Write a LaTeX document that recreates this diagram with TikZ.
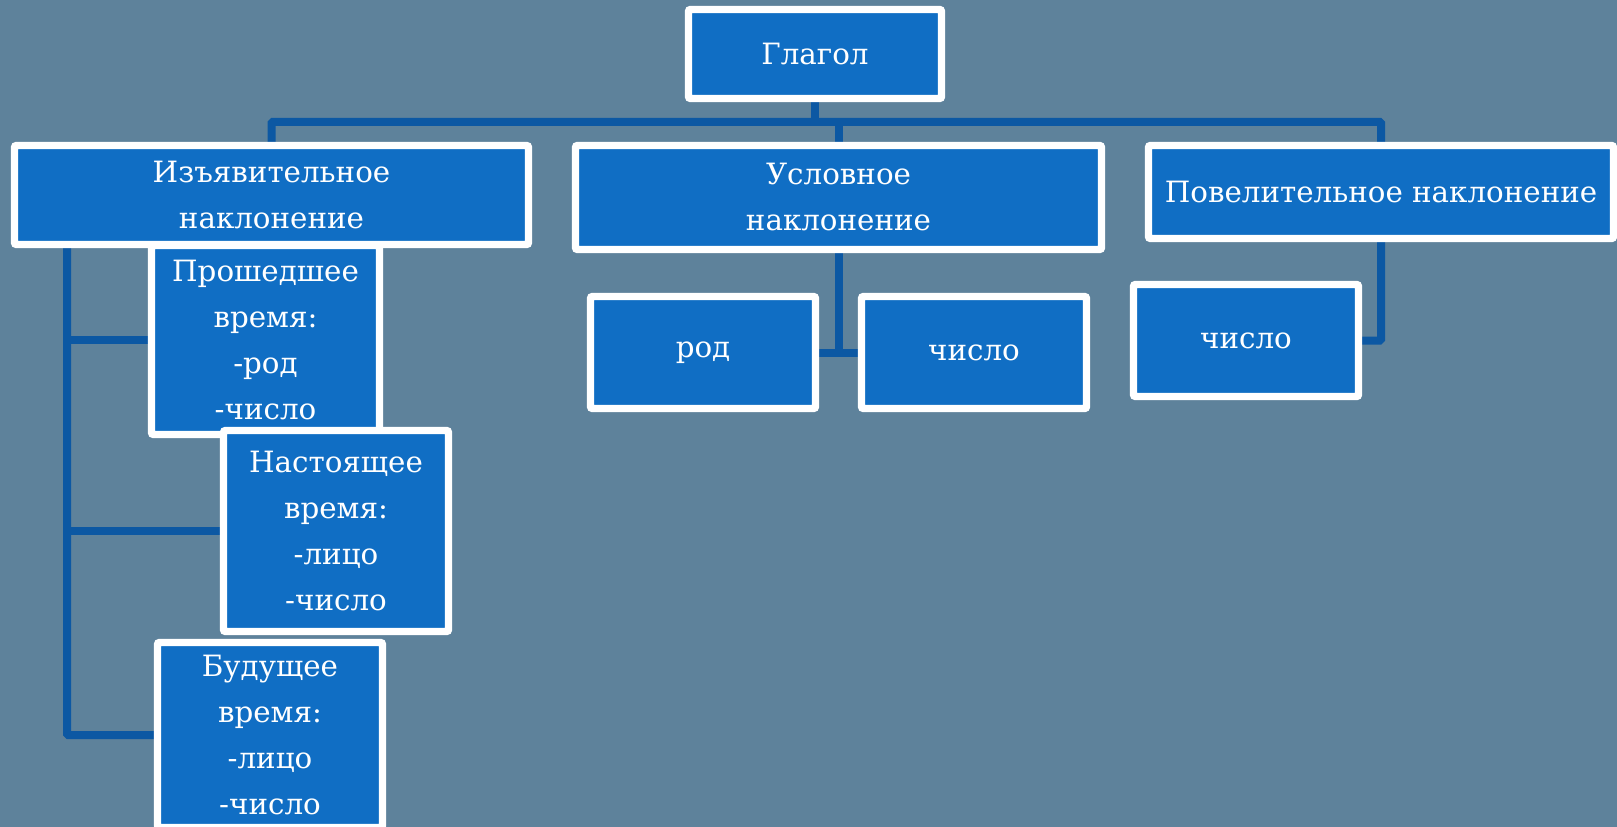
\documentclass[tikz,border=0pt]{standalone}
\usepackage{fontspec}
\setmainfont{DejaVu Serif}
\usepackage{tikz}

\definecolor{slate}{RGB}{94,130,155}
\definecolor{boxblue}{RGB}{16,110,196}
\definecolor{linkblue}{RGB}{12,88,163}

\pgfdeclarelayer{bg}
\pgfdeclarelayer{links}
\pgfsetlayers{bg,links,main}

\tikzset{
  box/.style={draw=white, fill=boxblue, line width=5.5pt, rounded corners=1.5pt,
    text=white, align=center, inner sep=0pt,
    font=\fontsize{22}{34.5}\selectfont},
  link/.style={draw=linkblue, line width=6pt, rounded corners=1pt}
}

\begin{document}
\begin{tikzpicture}[x=0.75pt,y=-0.75pt]
        \begin{pgfonlayer}{bg}
        \fill[slate] (0,0) rectangle (1617,827);
        \end{pgfonlayer}
        \useasboundingbox (0,0) rectangle (1617,827);
        \node[box, minimum width=171pt, minimum height=141.75pt] (past) at (265.5,340) {Прошедшее\\время:\\-род\\-число};
        \node[box, minimum width=168.75pt, minimum height=150.75pt] (pres) at (336,531) {Настоящее\\время:\\-лицо\\-число};
        \node[box, minimum width=168.75pt, minimum height=138.75pt] (fut) at (270,735) {Будущее\\время:\\-лицо\\-число};
        \node[box, minimum width=189.75pt, minimum height=66.75pt] (verb) at (815,54) {Глагол};
        \node[box, minimum width=385.5pt, minimum height=74.25pt] (indic) at (271.5,195) {Изъявительное\\наклонение};
        \node[box, minimum width=394.5pt, minimum height=78pt] (cond) at (838.5,197.5) {Условное\\наклонение};
        \node[box, minimum width=348.75pt, minimum height=69.75pt] (imper) at (1381,192) {Повелительное наклонение};
        \node[box, minimum width=168.75pt, minimum height=84pt] (gender) at (703,352.5) {род};
        \node[box, minimum width=168.75pt, minimum height=84pt] (numc) at (974,352.5) {число};
        \node[box, minimum width=168.75pt, minimum height=84pt] (numi) at (1246,340.5) {число};
        \coordinate (bar) at (1381,122);
        \coordinate (spine) at (67,0);
        \begin{pgfonlayer}{links}
        \draw[link] (verb.south) -- (verb.south |- bar);
        \draw[link] (indic.north) |- (bar) -- (imper.north);
        \draw[link] (cond.north) -- (cond.north |- bar);
        \draw[link] (indic.south -| spine) |- (fut.west);
        \draw[link] (past.west -| spine) -- (past.west);
        \draw[link] (pres.west -| spine) -- (pres.west);
        \draw[link] (cond.south) -- (cond.south |- gender.east);
        \draw[link] (gender.east) -- (numc.west);
        \draw[link] (imper.south) |- (numi.east);
        \end{pgfonlayer}
\end{tikzpicture}
\end{document}
